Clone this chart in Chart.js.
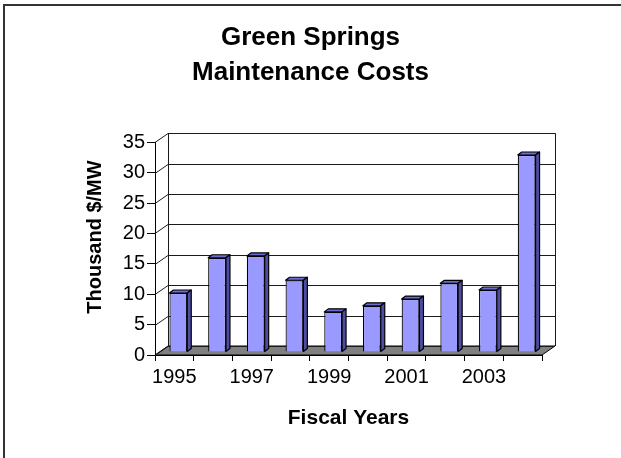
<!DOCTYPE html>
<html>
<head>
<meta charset="utf-8">
<script src="https://cdn.jsdelivr.net/npm/chart.js@4.4.1/dist/chart.umd.min.js"></script>
<style>
	body { margin: 0; background: #ffffff; }
	#grafica { display: block; }
</style>
</head>
<body>
<canvas id="grafica" width="621" height="458"></canvas>
<script>
var anios = ['1995', '1996', '1997', '1998', '1999', '2000', '2001', '2002', '2003', '2004'];
var costes = [9.7, 15.5, 15.8, 11.8, 6.6, 7.6, 8.7, 11.3, 10.2, 32.4];
var etiquetas_x = ['1995', '1997', '1999', '2001', '2003'];
var eje_y = { min: 0, max: 35, paso: 5 };
var titulo_y = 'Thousand $/MW';

var FUENTE = "Arial, 'Liberation Sans', sans-serif";

// desplazamiento de la pared del fondo y de las barras (efecto 3D)
var fondo_dx = 13, fondo_dy = 9;
var barra_dx = 4, barra_dy = -3;
var prof_dx = 4, prof_dy = 3;

var plugin3D = {
	id: 'efecto3d',
	beforeDraw: function (chart)
	{
		var ctx = chart.ctx;
		ctx.save();
		ctx.strokeStyle = '#333333';
		ctx.lineWidth = 2;
		ctx.beginPath();
		ctx.moveTo(4, 460);
		ctx.lineTo(4, 5);
		ctx.lineTo(625, 5);
		ctx.stroke();
		ctx.restore();
	},
	beforeDatasetsDraw: function (chart)
	{
		var ctx = chart.ctx;
		var area = chart.chartArea;
		var y = chart.scales.y;
		var izq = area.left, der = area.right, abajo = area.bottom;
		var arriba = y.getPixelForValue(eje_y.max);

		ctx.save();
		// suelo
		ctx.fillStyle = '#808080';
		ctx.strokeStyle = '#000000';
		ctx.lineWidth = 1;
		ctx.beginPath();
		ctx.moveTo(izq, abajo);
		ctx.lineTo(der, abajo);
		ctx.lineTo(der + fondo_dx, abajo - fondo_dy);
		ctx.lineTo(izq + fondo_dx, abajo - fondo_dy);
		ctx.closePath();
		ctx.fill();
		ctx.stroke();

		// lineas de la pared
		ctx.strokeStyle = '#1a1a1a';
		for (var v = eje_y.min; v <= eje_y.max; v += eje_y.paso)
		{
			var py = Math.round(y.getPixelForValue(v)) + 0.5;
			ctx.beginPath();
			ctx.moveTo(izq, py);
			ctx.lineTo(izq + fondo_dx, py - fondo_dy);
			ctx.lineTo(der + fondo_dx, py - fondo_dy);
			ctx.stroke();
		}
		ctx.beginPath();
		ctx.moveTo(Math.round(izq + fondo_dx) + 0.5, arriba - fondo_dy);
		ctx.lineTo(Math.round(izq + fondo_dx) + 0.5, abajo - fondo_dy);
		ctx.moveTo(Math.round(der + fondo_dx) + 0.5, arriba - fondo_dy);
		ctx.lineTo(Math.round(der + fondo_dx) + 0.5, abajo - fondo_dy);
		ctx.stroke();
		ctx.restore();

		ctx.save();
		ctx.translate(barra_dx, barra_dy);
	},
	afterDatasetsDraw: function (chart)
	{
		var ctx = chart.ctx;
		var barras = chart.getDatasetMeta(0).data;

		ctx.strokeStyle = '#000000';
		ctx.lineWidth = 1.2;
		ctx.lineJoin = 'round';
		for (var i = 0; i < barras.length; i++)
		{
			var b = barras[i];
			var xi = b.x - b.width / 2, xd = b.x + b.width / 2;
			var ya = b.y, yb = b.base;

			ctx.fillStyle = '#6b6bd6';
			ctx.beginPath();
			ctx.moveTo(xi, ya);
			ctx.lineTo(xd, ya);
			ctx.lineTo(xd + prof_dx, ya - prof_dy);
			ctx.lineTo(xi + prof_dx, ya - prof_dy);
			ctx.closePath();
			ctx.fill();
			ctx.stroke();

			ctx.fillStyle = '#4d4da6';
			ctx.beginPath();
			ctx.moveTo(xd, ya);
			ctx.lineTo(xd + prof_dx, ya - prof_dy);
			ctx.lineTo(xd + prof_dx, yb - prof_dy);
			ctx.lineTo(xd, yb);
			ctx.closePath();
			ctx.fill();
			ctx.stroke();
		}
		ctx.restore();
	},
	afterDraw: function (chart)
	{
		// titulo del eje y, algo por encima del centro como en el original
		var ctx = chart.ctx;
		ctx.save();
		ctx.translate(95, 237);
		ctx.rotate(-Math.PI / 2);
		ctx.font = 'bold 20px ' + FUENTE;
		ctx.fillStyle = '#000000';
		ctx.textAlign = 'center';
		ctx.textBaseline = 'middle';
		ctx.fillText(titulo_y, 0, 0);
		ctx.restore();
	}
};

var contexto = document.getElementById('grafica').getContext('2d');

var grafica = new Chart(contexto, {
	type: 'bar',
	data: {
		labels: anios,
		datasets: [{
			label: titulo_y,
			data: costes,
			backgroundColor: '#9999ff',
			borderColor: '#000000',
			borderWidth: 1.2,
			categoryPercentage: 1,
			barPercentage: 0.46,
			clip: false
		}]
	},
	options: {
		responsive: false,
		animation: false,
		events: [],
		layout: {
			padding: 0
		},
		plugins: {
			legend: { display: false },
			tooltip: { enabled: false },
			title: {
				display: true,
				text: ['Green Springs', 'Maintenance Costs'],
				color: '#000000',
				font: { family: FUENTE, size: 26, weight: 'bold', lineHeight: 1.35 },
				padding: { top: 20, bottom: 52 }
			}
		},
		scales: {
			x: {
				grid: { display: true, offset: true, drawOnChartArea: false, drawTicks: true, tickLength: 6, color: '#000000' },
				border: { display: true, color: '#000000', width: 1 },
				ticks: {
					autoSkip: false,
					maxRotation: 0,
					padding: 4,
					color: '#000000',
					font: { family: FUENTE, size: 20 },
					callback: function (valor, indice)
					{
						var etiqueta = anios[indice];
						return etiquetas_x.indexOf(etiqueta) >= 0 ? etiqueta : '';
					}
				},
				title: {
					display: true,
					text: 'Fiscal Years',
					color: '#000000',
					font: { family: FUENTE, size: 21, weight: 'bold' },
					padding: { top: 0, bottom: 27 }
				},
				afterFit: function (escala) { escala.height = 103; }
			},
			y: {
				min: eje_y.min,
				max: eje_y.max,
				grid: { display: true, drawOnChartArea: false, drawTicks: true, tickLength: 8, color: '#000000' },
				border: { display: true, color: '#000000', width: 1 },
				ticks: {
					stepSize: eje_y.paso,
					padding: 2,
					color: '#000000',
					font: { family: FUENTE, size: 20 }
				},
				afterFit: function (escala) { escala.width = 155; }
			},
			// eje vacio a la derecha, solo reserva el margen derecho
			margen: {
				type: 'linear',
				position: 'right',
				display: true,
				grid: { display: false },
				border: { display: false },
				ticks: { display: false },
				afterFit: function (escala) { escala.width = 79; }
			}
		}
	},
	plugins: [plugin3D]
});
</script>
</body>
</html>
